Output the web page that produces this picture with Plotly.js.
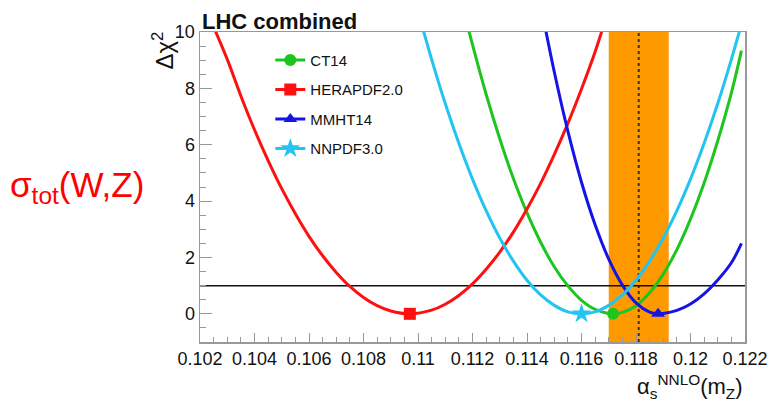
<!DOCTYPE html>
<html>
<head>
<meta charset="utf-8">
<script src="https://cdn.plot.ly/plotly-3.0.1.min.js"></script>
<style>html,body{margin:0;padding:0;background:#fff;}#chart{width:769px;height:401px;}</style>
</head>
<body>
<div id="chart"></div>
<script>
// ---- data ----
const seriesNames = ['CT14', 'HERAPDF2.0', 'MMHT14', 'NNPDF3.0'];

const ct14X = [0.1118, 0.112, 0.1125, 0.113, 0.1135, 0.114, 0.1145, 0.115, 0.1155, 0.116, 0.1165, 0.11716, 0.1175, 0.118, 0.1185, 0.119, 0.1195, 0.12, 0.1205, 0.121, 0.1215, 0.12187];
const ct14Y = [10.3, 9.55, 7.79, 6.21, 4.80, 3.58, 2.54, 1.67, 0.99, 0.48, 0.16, 0.0, 0.05, 0.29, 0.75, 1.41, 2.28, 3.36, 4.64, 6.14, 7.84, 9.34];

const heraX = [0.1024, 0.103, 0.1035, 0.104, 0.1045, 0.105, 0.1055, 0.106, 0.1065, 0.107, 0.1075, 0.108, 0.1085, 0.109, 0.1097, 0.1105, 0.111, 0.1115, 0.112, 0.1125, 0.113, 0.1135, 0.114, 0.1145, 0.115, 0.1155, 0.116, 0.1165, 0.1168];
const heraY = [10.4, 9.03, 7.73, 6.53, 5.44, 4.44, 3.55, 2.75, 2.06, 1.47, 0.97, 0.58, 0.29, 0.10, 0.0, 0.13, 0.34, 0.65, 1.06, 1.58, 2.19, 2.90, 3.72, 4.63, 5.65, 6.76, 7.98, 9.30, 10.2];

const mmhtX = [0.1146, 0.115, 0.1155, 0.116, 0.1165, 0.117, 0.1175, 0.118, 0.1185, 0.11881, 0.119, 0.1195, 0.12, 0.1205, 0.121, 0.1215, 0.12187];
const mmhtY = [10.49, 8.59, 6.48, 4.67, 3.16, 1.94, 1.02, 0.39, 0.06, 0.0, 0.01, 0.12, 0.35, 0.71, 1.20, 1.81, 2.5];

const nnpdfX = [0.1101, 0.1105, 0.111, 0.1115, 0.112, 0.1125, 0.113, 0.1135, 0.114, 0.1145, 0.115, 0.1155, 0.116, 0.1165, 0.117, 0.1175, 0.118, 0.1185, 0.119, 0.1195, 0.12, 0.1205, 0.121, 0.1215, 0.1219];
const nnpdfY = [10.39, 9.03, 7.46, 6.05, 4.78, 3.66, 2.69, 1.87, 1.19, 0.67, 0.30, 0.07, 0.0, 0.07, 0.30, 0.67, 1.19, 1.87, 2.69, 3.66, 4.78, 6.05, 7.46, 9.03, 10.39];

// best-fit points (markers)
const bestX = [0.11716, 0.1097, 0.11881, 0.1160];
const bestY = [0, 0, 0, 0];

// world-average band and line
const bandLow = 0.1170, bandHigh = 0.1192, bandCentre = 0.1181;
const refLevel = 1;

const xTickVals = [0.102, 0.104, 0.106, 0.108, 0.110, 0.112, 0.114, 0.116, 0.118, 0.120, 0.122];
const xTickText = ['0.102', '0.104', '0.106', '0.108', '0.11', '0.112', '0.114', '0.116', '0.118', '0.12', '0.122'];
const yTickVals = [0, 2, 4, 6, 8, 10];
const yTickText = ['0', '2', '4', '6', '8', '10'];

// ---- styling ----
const colors = ['#1ec51e', '#ff1010', '#1414e6', '#22c4f2'];
const symbols = ['circle', 'square', 'triangle-up', 'star'];
const curvesX = [ct14X, heraX, mmhtX, nnpdfX];
const curvesY = [ct14Y, heraY, mmhtY, nnpdfY];
const FONT = 'Liberation Sans, Arial, Helvetica, sans-serif';

const traces = [];
for (let i = 0; i < 4; i++) {
  traces.push({
    x: curvesX[i], y: curvesY[i], type: 'scatter', mode: 'lines',
    line: {color: colors[i], width: 3, shape: 'spline', smoothing: 1},
    showlegend: false, hoverinfo: 'skip'
  });
}
for (let i = 0; i < 4; i++) {
  traces.push({
    x: [bestX[i]], y: [bestY[i]], type: 'scatter', mode: 'lines+markers',
    name: seriesNames[i], legendgroup: 'g' + i,
    line: {color: colors[i], width: 3},
    marker: {color: colors[i], symbol: symbols[i], size: symbols[i] === 'star' ? 15 : 12, line: {width: 0}},
    cliponaxis: false
  });
}

const layout = {
  width: 769, height: 401,
  margin: {l: 200, r: 24, t: 32, b: 59},
  paper_bgcolor: '#fff', plot_bgcolor: '#fff',
  font: {family: FONT, color: '#111', size: 18},
  showlegend: true,
  legend: {
    x: 0.129, y: 0.962, xanchor: 'left', yanchor: 'top',
    bgcolor: 'rgba(0,0,0,0)', borderwidth: 0,
    font: {family: FONT, size: 15, color: '#111'},
    traceorder: 'grouped', tracegroupgap: 7
  },
  xaxis: {
    range: [0.102, 0.122], showgrid: false, zeroline: false,
    showline: true, linecolor: '#999', linewidth: 1.5, mirror: true,
    tickmode: 'array', tickvals: xTickVals, ticktext: xTickText,
    ticks: 'inside', ticklen: 9, tickcolor: '#999', tickwidth: 1,
    tickfont: {family: FONT, size: 18, color: '#111'},
    minor: {tickmode: 'linear', tick0: 0.102, dtick: 0.0005, ticks: 'inside', ticklen: 5, tickcolor: '#999', showgrid: false}
  },
  yaxis: {
    range: [-1, 10], showgrid: false, zeroline: false,
    showline: true, linecolor: '#999', linewidth: 1.5, mirror: true,
    tickmode: 'array', tickvals: yTickVals, ticktext: yTickText,
    ticks: 'inside', ticklen: 12, tickcolor: '#999', tickwidth: 1,
    tickfont: {family: FONT, size: 18, color: '#111'},
    minor: {tickmode: 'linear', tick0: 0, dtick: 0.5, ticks: 'inside', ticklen: 6, tickcolor: '#999', showgrid: false}
  },
  shapes: [
    {type: 'rect', xref: 'x', yref: 'paper', x0: bandLow, x1: bandHigh, y0: 0, y1: 1,
     fillcolor: '#ff9900', line: {width: 0}, layer: 'below'},
    {type: 'line', xref: 'x', yref: 'paper', x0: bandCentre, x1: bandCentre, y0: 0, y1: 1,
     line: {color: '#333', width: 2, dash: 'dot'}, layer: 'below'},
    {type: 'line', xref: 'paper', yref: 'y', x0: 0, x1: 1, y0: refLevel, y1: refLevel,
     line: {color: '#111', width: 1.5}, layer: 'below'}
  ],
  annotations: [
    {text: '<b>LHC combined</b>', xref: 'paper', yref: 'paper', x: 0, y: 1, xanchor: 'left', yanchor: 'bottom',
     yshift: -4, showarrow: false, font: {family: FONT, size: 22, color: '#111'}},
    {text: 'Δχ<sup>2</sup>', xref: 'paper', yref: 'paper', x: -0.068, y: 0.94, xanchor: 'center', yanchor: 'middle',
     textangle: -90, showarrow: false, font: {family: FONT, size: 24, color: '#111'}},
    {text: 'α<sub>s</sub><sup>NNLO</sup>(m<sub>Z</sub>)', xref: 'paper', yref: 'paper', x: 1, y: -0.143,
     xanchor: 'right', yanchor: 'middle', showarrow: false, font: {family: FONT, size: 22, color: '#111'}},
    {text: 'σ<sub>tot</sub>(W,Z)', xref: 'paper', yref: 'paper', x: -0.225, y: 0.5, xanchor: 'center', yanchor: 'middle',
     showarrow: false, font: {family: FONT, size: 35, color: '#ff0000'}}
  ]
};

Plotly.newPlot('chart', traces, layout, {displayModeBar: false, staticPlot: true});
</script>
</body>
</html>
